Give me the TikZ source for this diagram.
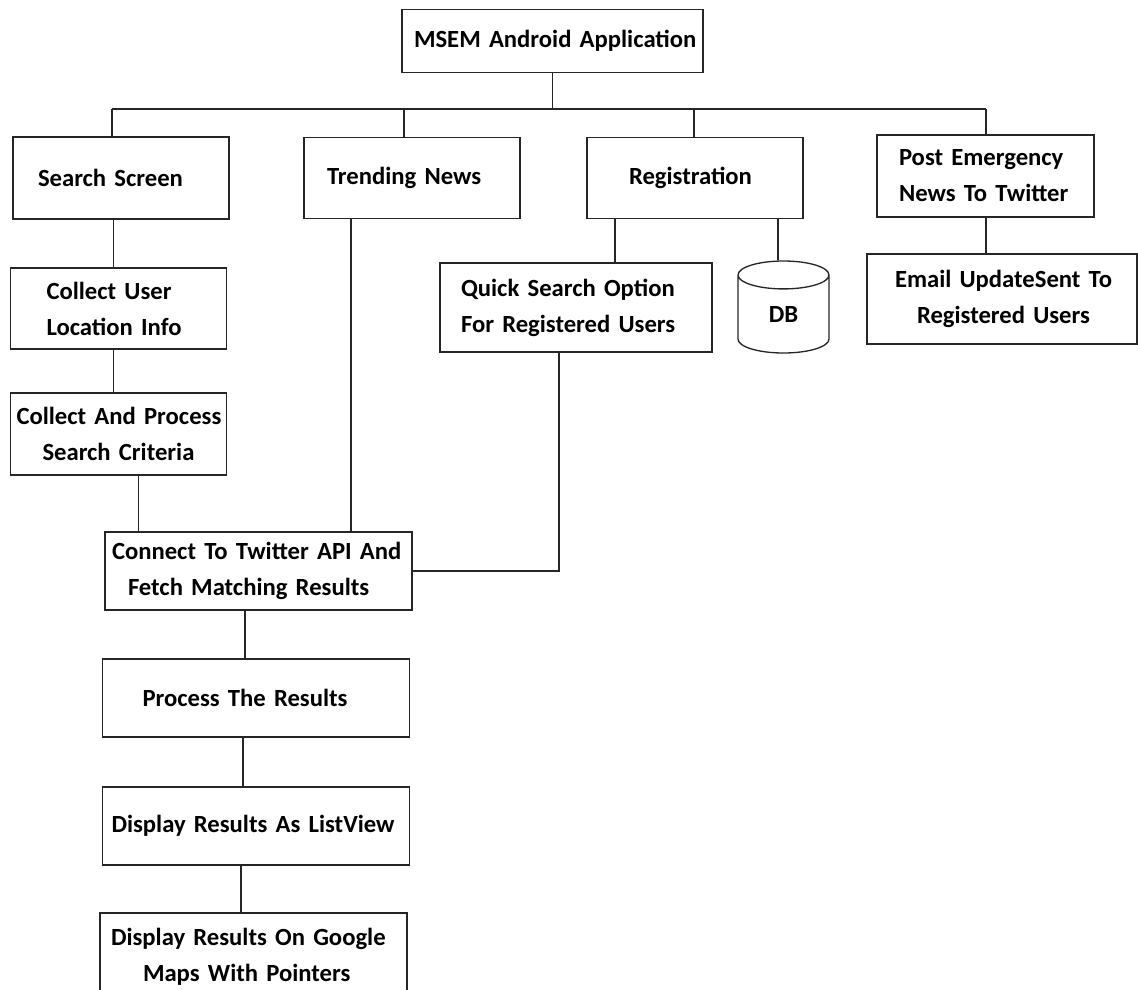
\documentclass[tikz,border=0pt]{standalone}
\usepackage{fontspec}
\setmainfont{Carlito}[WordSpace={1,0,0}]
\usetikzlibrary{shapes.geometric}
\newlength{\px}
\setlength{\px}{0.75pt}
\tikzset{
  wire/.style={draw=black!85, line width=1pt},
  boxfont/.style={font=\fontsize{18.5}{27}\selectfont\bfseries},
  rbox/.style 2 args={wire, boxfont, align=left, inner sep=0pt, text width=#1*\px, minimum height=#2*\px},
}
\begin{document}
\begin{tikzpicture}[x=\px, y=-\px]
  \useasboundingbox (0,0) rectangle (1138,989);
  % top row
  \node[rbox={301}{63}] (root) at (552.5,41) {\hspace*{12\px}MSEM Android Application};
  \node[rbox={216}{82}] (search) at (121,178) {\hspace*{25\px}Search Screen};
  \node[rbox={216}{81}] (trending) at (412,178) {\hspace*{23\px}Trending News};
  \node[rbox={216}{81}] (registration) at (695,178) {\hspace*{42\px}Registration};
  \node[rbox={217}{82}] (post) at (985.5,176) {\hspace*{22\px}Post Emergency\\\hspace*{22\px}News To Twitter};
  % second row
  \node[rbox={216}{81}] (userinfo) at (118.5,308.5) {\hspace*{36\px}Collect User\\\hspace*{36\px}Location Info};
  \node[rbox={216}{82}] (criteria) at (118.5,434) {\hspace*{6\px}Collect And Process\\\hspace*{32\px}Search Criteria};
  \node[rbox={272}{89}] (quick) at (576,307.5) {\hspace*{21\px}Quick Search Option\\\hspace*{21\px}For Registered Users};
  \node[cylinder, wire, boxfont, shape border rotate=90, aspect=0.95, minimum width=91*\px, minimum height=92*\px,
    inner sep=0pt, anchor=shape center] (db) at (783.5,307) {DB};
  \node[rbox={270}{90}] (email) at (1002,299) {\hspace*{28\px}Email UpdateSent To\\\hspace*{50\px}Registered Users};
  % results column
  \node[rbox={307}{78}] (connect) at (258.5,571) {\hspace*{7\px}Connect To Twitter API And\\\hspace*{23\px}Fetch Matching Results};
  \node[rbox={307}{78}] (process) at (256,698) {\hspace*{40\px}Process The Results};
  \node[rbox={307}{78}] (listview) at (256,826) {\hspace*{9\px}Display Results As ListView};
  \node[rbox={307}{87}] (maps) at (253.5,956.5) {\hspace*{11\px}Display Results On Google\\\hspace*{43\px}Maps With Pointers};
  % branch points
  \coordinate (railA) at (112,109);
  \coordinate (railB) at (404,109);
  \coordinate (railC) at (694,109);
  \coordinate (railD) at (986,109);
  \coordinate (leftx) at (113.5,0);
  \coordinate (critx) at (138.5,0);
  \coordinate (trendx) at (351,0);
  \coordinate (quickx) at (615,0);
  \coordinate (dbx) at (778,0);
  \coordinate (resx) at (559,0);
  \coordinate (proc1) at (245,0);
  \coordinate (proc2) at (243,0);
  \coordinate (proc3) at (241,0);
  % connectors
  \draw[wire] (root.south) -- (root.south |- railA);
  \draw[wire] (railA) -- (railD);
  \draw[wire] (railA) -- (railA |- search.north);
  \draw[wire] (railB) -- (railB |- trending.north);
  \draw[wire] (railC) -- (railC |- registration.north);
  \draw[wire] (railD) -- (railD |- post.north);
  \draw[wire] (search.south -| leftx) -- (userinfo.north -| leftx);
  \draw[wire] (userinfo.south -| leftx) -- (criteria.north -| leftx);
  \draw[wire] (criteria.south -| critx) -- (connect.north -| critx);
  \draw[wire] (trending.south -| trendx) -- (connect.north -| trendx);
  \draw[wire] (registration.south -| quickx) -- (quick.north -| quickx);
  \draw[wire] (registration.south -| dbx) -- (db.top -| dbx);
  \draw[wire] (post.south -| railD) -- (email.north -| railD);
  \draw[wire] (quick.south -| resx) -- (connect.east -| resx) -- (connect.east);
  \draw[wire] (connect.south -| proc1) -- (process.north -| proc1);
  \draw[wire] (process.south -| proc2) -- (listview.north -| proc2);
  \draw[wire] (listview.south -| proc3) -- (maps.north -| proc3);
\end{tikzpicture}
\end{document}
